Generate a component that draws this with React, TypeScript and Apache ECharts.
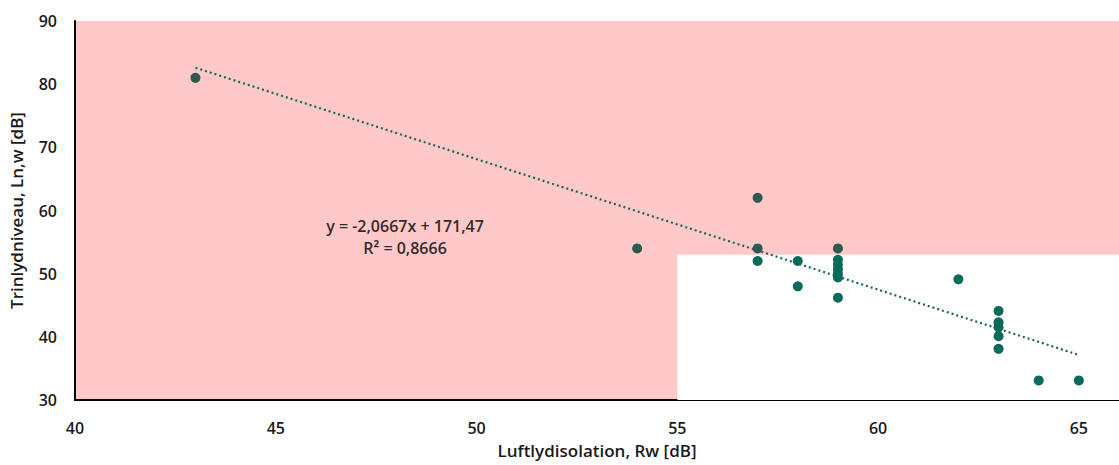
import React, { useEffect, useRef } from "react";
import * as echarts from "echarts";

// Points inside the red (non-compliant) area
const failPoints: [number, number][] = [
  [43, 81],
  [54, 54],
  [57, 62],
  [57, 54],
  [59, 54],
];

// Points inside the white (compliant) area
const passPoints: [number, number][] = [
  [57, 52],
  [58, 52],
  [58, 48],
  [59, 52.2],
  [59, 51.4],
  [59, 50.7],
  [59, 50],
  [59, 49.4],
  [59, 46.2],
  [62, 49.1],
  [63, 44.1],
  [63, 42.3],
  [63, 41.5],
  [63, 40.1],
  [63, 38.1],
  [64, 33.1],
  [65, 33.1],
];

// Linear trendline constants (as shown on the chart)
const slope = -2.0667;
const intercept = 171.47;
const trendRange: [number, number] = [43, 65];
const equationLines = ["y = -2,0667x + 171,47", "R² = 0,8666"];

// Requirement thresholds
const rwLimit = 55;
const lnwLimit = 53;

const xName = "Luftlydisolation, Rw [dB]";
const yName = "Trinlydniveau, Ln,w [dB]";
const xMin = 40;
const xMax = 66;
const yMin = 30;
const yMax = 90;

const FONT = "Open Sans";

export default function App() {
  const ref = useRef<HTMLDivElement>(null);

  useEffect(() => {
    if (!ref.current) return;
    const chart = echarts.init(ref.current, undefined, { renderer: "svg" });
    const trend = trendRange.map((x) => [x, slope * x + intercept]);

    chart.setOption({
      animation: false,
      grid: {
        left: 75,
        right: -4,
        top: 21,
        bottom: 65,
        show: true,
        backgroundColor: "#FFC9C9",
        borderWidth: 0,
      },
      xAxis: {
        type: "value",
        min: xMin,
        max: xMax,
        interval: 5,
        name: xName,
        nameLocation: "middle",
        nameGap: 42,
        nameTextStyle: { fontFamily: FONT, fontSize: 17, fontWeight: 600, color: "#1a1a1a" },
        axisLine: { show: true, onZero: false, lineStyle: { color: "#000", width: 2 } },
        axisTick: { show: false },
        splitLine: { show: false },
        axisLabel: {
          margin: 20,
          fontFamily: FONT,
          fontSize: 16,
          fontWeight: 600,
          color: "#1a1a1a",
          showMaxLabel: false,
          formatter: (v: number) => (v % 5 === 0 ? String(v) : ""),
        },
      },
      yAxis: {
        type: "value",
        min: yMin,
        max: yMax,
        interval: 10,
        name: yName,
        nameLocation: "middle",
        nameGap: 50,
        nameTextStyle: { fontFamily: FONT, fontSize: 17, fontWeight: 600, color: "#1a1a1a" },
        axisLine: { show: true, onZero: false, lineStyle: { color: "#000", width: 2 } },
        axisTick: { show: false },
        splitLine: { show: false },
        axisLabel: {
          margin: 18,
          fontFamily: FONT,
          fontSize: 16,
          fontWeight: 600,
          color: "#1a1a1a",
        },
      },
      graphic: [
        {
          type: "text",
          x: 405,
          y: 215,
          style: {
            text: equationLines.join("\n"),
            fontFamily: FONT,
            fontSize: 16,
            fontWeight: 600,
            fill: "#352a2a",
            textAlign: "center",
            lineHeight: 22,
          },
          z: 10,
        },
      ],
      series: [
        {
          type: "line",
          data: [],
          silent: true,
          markArea: {
            silent: true,
            itemStyle: { color: "#ffffff", opacity: 1 },
            data: [[{ coord: [rwLimit, yMin] }, { coord: [xMax, lnwLimit] }]],
          },
          z: 0,
        },
        {
          type: "line",
          data: trend,
          showSymbol: false,
          symbol: "none",
          lineStyle: { color: "#1a6653", width: 2.2, type: [2, 3] },
          z: 3,
        },
        {
          type: "scatter",
          data: failPoints,
          symbolSize: 10,
          itemStyle: { color: "#2d5a4c", opacity: 1 },
          z: 4,
        },
        {
          type: "scatter",
          data: passPoints,
          symbolSize: 10,
          itemStyle: { color: "#0a6b5a", opacity: 1 },
          z: 4,
        },
      ],
    });

    return () => chart.dispose();
  }, []);

  return (
    <div
      ref={ref}
      style={{ position: "absolute", left: 0, top: 0, width: 1119, height: 465 }}
    />
  );
}
